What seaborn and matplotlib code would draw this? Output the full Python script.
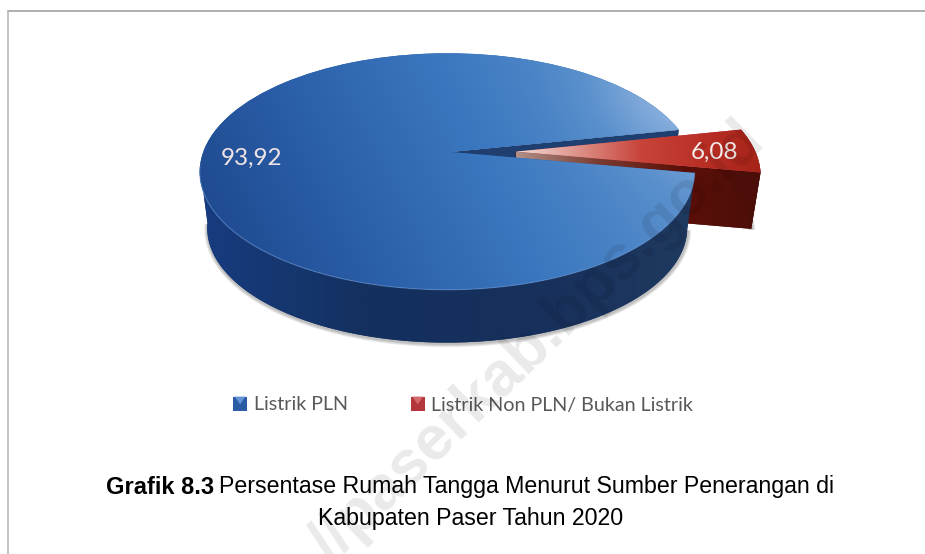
import numpy as np
import seaborn as sns
import matplotlib
matplotlib.use('Agg')
import matplotlib.pyplot as plt
from matplotlib.legend_handler import HandlerBase
from matplotlib.patches import Polygon, Rectangle
from matplotlib.transforms import Affine2D, Transform

labels = ['Listrik PLN', 'Listrik Non PLN/ Bukan Listrik']
values = [93.92, 6.08]
caption_bold = 'Grafik 8.3'
caption_line1 = 'Persentase Rumah Tangga Menurut Sumber Penerangan di'
caption_line2 = 'Kabupaten Paser Tahun 2020'
watermark = '//paserkab.bps.go.id'

sns.set_theme(style='white')
plt.rcParams['font.family'] = ['Lato', 'DejaVu Sans']


# tilted disc: unit circle to pixels, with a bit of perspective
class Tilt(Transform):
    input_dims = 2
    output_dims = 2

    def transform_non_affine(self, xy):
        xy = np.asarray(xy, dtype=float)
        w = 1 + 0.165 * xy[:, 1] + 0.0113 * xy[:, 0]
        return np.column_stack((450 + 244 * xy[:, 0] / w, 152 - 115 * xy[:, 1] / w))


# legend swatch: darker square with a lighter fold on top
class Swatch(HandlerBase):
    def create_artists(self, legend, orig, xd, yd, w, h, fontsize, trans):
        base = Rectangle((-xd, -yd), w, h, fc=orig.get_facecolor(), ec='none', transform=trans)
        light = sns.set_hls_values(orig.get_facecolor()[:3], l=0.62)
        fold = Polygon([(-xd + 0.12 * w, -yd + h), (-xd + 0.88 * w, -yd + h), (-xd + 0.5 * w, -yd + 0.45 * h)],
                       closed=True, fc=light, ec='none', transform=trans)
        return [base, fold]


tilt = Tilt()
# the underside of the disc sits lower and looks a little smaller
lower = Affine2D().translate(-450, -152).scale(0.97).translate(450, 152 + 57)


def arc(wedge, t1, t2):
    t = np.radians(np.linspace(t1, t2, 120))
    cx, cy = wedge.center
    return tilt.transform(np.column_stack((cx + np.cos(t), cy + np.sin(t))))


def wall(pts):
    return np.vstack((pts, lower.transform(pts)[::-1]))


def paint(ax, clip, cmap, t, extent, z):
    im = ax.imshow(t, cmap=cmap, vmin=0, vmax=1, extent=extent, aspect='auto',
                   zorder=z, interpolation='bilinear')
    im.set_clip_path(clip)
    return im


def shadow(ax, pts, z):
    edge = lower.transform(pts) + np.array([0.5, 1.0])
    for lw in (5, 3.5, 2):
        ax.plot(edge[:, 0], edge[:, 1], color='black', alpha=0.09, lw=lw, zorder=z,
                solid_capstyle='butt')


fig = plt.figure(figsize=(9.25, 5.54), dpi=100)
ax = fig.add_axes([0, 0, 1, 1])

wedges, _ = ax.pie(values, explode=[0, 0.27], startangle=11.6, radius=1,
                   colors=['#2a5ca6', '#b5363a'], frame=False,
                   wedgeprops={'edgecolor': 'none', 'linewidth': 0})
blue, red = wedges
blue.set_transform(tilt + ax.transData)
red.set_transform(tilt + ax.transData)
blue.set_zorder(5)
red.set_zorder(3)

# colour ramps
blue_cmap = sns.blend_palette(['#1b4488', '#2a5ea8', '#3b78c0', '#5a90cc', '#93b6e2'], as_cmap=True)
side_cmap = sns.blend_palette(['#173c80', '#14305f', '#17305c', '#1f3a60'], as_cmap=True)
red_cmap = sns.blend_palette(['#f3ded8', '#dd9088', '#c8443a', '#b92f25', '#a52318'], as_cmap=True)
cut_cmap = sns.blend_palette(['#b09088', '#7a3a30', '#5a0f08', '#4c0e09'], as_cmap=True)

# blue cut face seen through the gap
pts = arc(blue, blue.theta1, blue.theta1)[:1]
apex = tilt.transform(np.array([blue.center]))
ax.add_patch(Polygon(wall(np.vstack((apex, pts))), closed=True, fc='#1e3f70', ec='none', zorder=1))

# red cut face and rim
pts = arc(red, red.theta1, red.theta1)[:1]
apex = tilt.transform(np.array([red.center]))
cut = Polygon(wall(np.vstack((apex, pts))), closed=True, fc='#5a0f08', ec='none', zorder=2)
ax.add_patch(cut)
ramp = np.linspace(0, 1, 200)[None, :]
paint(ax, cut, cut_cmap, ramp, (apex[0, 0], 765, 300, 100), 2.1)
red_arc = arc(red, red.theta1, red.theta2)
shadow(ax, red_arc, 1.5)
rim = Polygon(wall(red_arc), closed=True, fc='#4c0e09', ec='none', zorder=2.2)
ax.add_patch(rim)

# red top
paint(ax, red, red_cmap, ramp, (apex[0, 0], 765, 180, 125), 3.1)

# blue rim, starts where the side of the disc is tangent
blue_arc = arc(blue, 187, blue.theta2)
shadow(ax, blue_arc, 3.9)
rim = Polygon(wall(blue_arc), closed=True, fc='#14305f', ec='none', zorder=4)
ax.add_patch(rim)
paint(ax, rim, side_cmap, ramp, (198, 700, 350, 170), 4.1)

# blue top, lighter towards the upper right
u, v = np.meshgrid(np.linspace(0, 1, 300), np.linspace(0, 1, 200))
glow = np.exp(-(((u - 1.0) / 0.22) ** 2 + ((v - 0.15) / 0.3) ** 2))
field = 0.705 * u + 0.16 * (1 - v) + 0.22 * glow
paint(ax, blue, blue_cmap, np.clip(field, 0, 1), (198, 702, 290, 53), 5.1)
ax.plot(blue_arc[:, 0], blue_arc[:, 1], color='#6f9ad6', alpha=0.55, lw=0.8, zorder=5.2)

# data labels
ax.text(252, 158, f'{values[0]:.2f}'.replace('.', ','), color='#f1e4e4', fontsize=17.5,
        ha='center', va='center', zorder=6)
ax.text(715, 152, f'{values[1]:.2f}'.replace('.', ','), color='#f6ecec', fontsize=17.5,
        ha='center', va='center', zorder=6)

# legend
ax.legend(wedges, labels, loc='center', bbox_to_anchor=(463 / 925, 1 - 405 / 554), ncol=2,
          frameon=False, fontsize=14.2, labelcolor='#595959', handlelength=0.72, handleheight=0.72,
          handletextpad=0.32, columnspacing=3.2,
          handler_map={type(blue): Swatch()})

# caption
ax.text(106, 487, caption_bold, family='Liberation Sans', fontweight='bold', fontsize=17,
        color='black', ha='left', va='center', zorder=6)
ax.text(834, 487, caption_line1, family='Liberation Sans', fontsize=16.7,
        color='black', ha='right', va='center', zorder=6)
ax.text(471, 519, caption_line2, family='Liberation Sans', fontsize=16.7,
        color='black', ha='center', va='center', zorder=6)

# watermark
ax.text(537, 343, watermark, family='Liberation Sans', fontweight='bold', fontsize=45,
        color='black', alpha=0.085, rotation=44, ha='center', va='center',
        rotation_mode='anchor', zorder=7)

# frame of the chart box
ax.plot([8, 925], [11, 11], color='#9a9a9a', lw=1.1, zorder=6)
ax.plot([8, 8], [11, 554], color='#b8b8b8', lw=1.2, zorder=6)

ax.set_aspect('auto')
ax.set_xlim(0, 925)
ax.set_ylim(554, 0)
ax.axis('off')

plt.savefig('out.png', dpi=100)
